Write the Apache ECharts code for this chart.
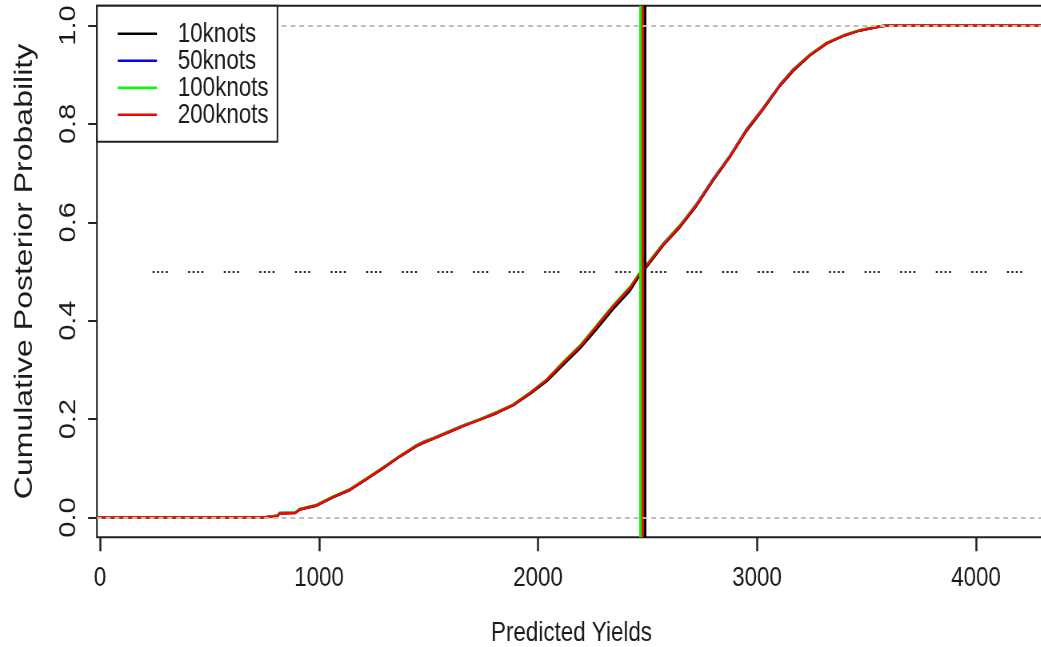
<!DOCTYPE html>
<html>
<head>
<meta charset="utf-8">
<script src="https://cdn.jsdelivr.net/npm/echarts@6/dist/echarts.min.js"></script>
<style>
  html, body { margin: 0; padding: 0; background: #fff; }
  #frame { width: 1041px; height: 647px; overflow: hidden; }
  /* laid out wider, then squeezed horizontally for the narrow device font look */
  #chart { width: 1320px; height: 647px; transform: scaleX(0.8); transform-origin: 0 0; }
</style>
</head>
<body>
<div id="frame"><div id="chart"></div></div>
<script>
// Predicted yields (x) at which the cumulative probabilities below are read
const yields = [744, 745, 812, 818, 890, 913, 989, 1064, 1142, 1218, 1292, 1370, 1446, 1483, 1521, 1598, 1658,
  1735, 1811, 1886, 1963, 2040, 2114, 2192, 2268, 2342, 2420, 2458, 2481, 2572, 2648, 2725, 2800,
  2877, 2953, 3029, 3105, 3166, 3242, 3318, 3394, 3470, 3547, 3592];

// Cumulative posterior probability for each knot setting
const cdf10 = [0, 0.002, 0.003, 0.008, 0.009, 0.016, 0.024, 0.041, 0.056, 0.078, 0.100, 0.124, 0.145, 0.153, 0.160, 0.174, 0.186,
  0.199, 0.212, 0.228, 0.251, 0.277, 0.310, 0.344, 0.383, 0.423, 0.461, 0.488, 0.501, 0.553, 0.590, 0.634, 0.685,
  0.733, 0.786, 0.830, 0.877, 0.908, 0.939, 0.963, 0.979, 0.990, 0.997, 1.0];
const cdf50 = [0, 0.002, 0.004, 0.009, 0.010, 0.017, 0.025, 0.042, 0.057, 0.079, 0.101, 0.125, 0.147, 0.155, 0.161, 0.176, 0.187,
  0.200, 0.214, 0.229, 0.253, 0.280, 0.315, 0.349, 0.390, 0.430, 0.468, 0.493, 0.505, 0.557, 0.594, 0.638, 0.689,
  0.736, 0.790, 0.833, 0.880, 0.911, 0.941, 0.964, 0.979, 0.990, 0.997, 1.0];
const cdf100 = [0, 0.003, 0.004, 0.009, 0.010, 0.018, 0.026, 0.043, 0.058, 0.080, 0.102, 0.126, 0.147, 0.155, 0.161, 0.176, 0.187,
  0.200, 0.214, 0.230, 0.254, 0.281, 0.316, 0.350, 0.391, 0.431, 0.469, 0.494, 0.506, 0.557, 0.594, 0.637, 0.688,
  0.735, 0.789, 0.832, 0.879, 0.911, 0.941, 0.965, 0.980, 0.991, 0.998, 1.0];
const cdf200 = [0, 0.002, 0.003, 0.008, 0.009, 0.017, 0.025, 0.042, 0.057, 0.079, 0.101, 0.125, 0.146, 0.154, 0.160, 0.175, 0.186,
  0.199, 0.213, 0.229, 0.253, 0.280, 0.314, 0.348, 0.389, 0.429, 0.467, 0.492, 0.504, 0.555, 0.592, 0.636, 0.687,
  0.734, 0.788, 0.832, 0.879, 0.910, 0.940, 0.964, 0.979, 0.990, 0.997, 1.0];

// Posterior medians (vertical reference lines)
const medians = [2490, 2470, 2468, 2479];

const seriesNames = ['10knots', '50knots', '100knots', '200knots'];
const seriesColors = ['#000000', '#0000ff', '#00ff00', '#ff0000'];

const xTicks = [0, 1000, 2000, 3000, 4000];
const xTickLabels = ['0', '1000', '2000', '3000', '4000'];
const yTicks = [0, 0.2, 0.4, 0.6, 0.8, 1.0];
const yTickLabels = ['0.0', '0.2', '0.4', '0.6', '0.8', '1.0'];

// dotted 0.5 guide runs from here to the right edge
const halfLineStart = 240;

const X_MIN = -14, X_MAX = 4320, Y_MIN = -0.04, Y_MAX = 1.04;
const PX_PER_UNIT = 0.27375;

const FONT = '"Liberation Sans", Arial, sans-serif';
const INK = '#1a1a1a';

function curve(cdf) {
  const pts = [[X_MIN, 0]];
  for (let i = 0; i < yields.length; i++) pts.push([yields[i], cdf[i]]);
  pts.push([X_MAX, 1]);
  return pts;
}

const cdfs = [cdf10, cdf50, cdf100, cdf200];

const series = cdfs.map((cdf, i) => ({
  name: seriesNames[i],
  type: 'line',
  data: curve(cdf),
  symbol: 'none',
  lineStyle: { color: seriesColors[i], width: 2.5 },
  itemStyle: { color: seriesColors[i] },
  silent: true,
  markLine: {
    silent: true,
    symbol: ['none', 'none'],
    label: { show: false },
    lineStyle: { type: 'solid', color: seriesColors[i], width: 3 },
    data: [{ xAxis: medians[i] }]
  }
}));

// reference lines at 0, 1 (grey dashed) and 0.5 (black dotted)
series.push({
  name: 'ref',
  type: 'line',
  data: [],
  silent: true,
  markLine: {
    silent: true,
    symbol: ['none', 'none'],
    label: { show: false },
    data: [
      { yAxis: 0, lineStyle: { color: '#bdbdbd', width: 2, type: [6, 5] } },
      { yAxis: 1, lineStyle: { color: '#bdbdbd', width: 2, type: [6, 5] } },
      [
        { coord: [halfLineStart, 0.5], lineStyle: { color: '#222', width: 2, type: [2.5, 3, 2.5, 3, 2.5, 3, 2.5, 25.5] } },
        { coord: [X_MAX, 0.5] }
      ]
    ]
  }
});

const chart = echarts.init(document.getElementById('chart'), null, { renderer: 'canvas' });
chart.setOption({
  animation: false,
  backgroundColor: '#fff',
  textStyle: { fontFamily: FONT },
  grid: {
    show: true,
    left: 121.2,
    top: 5.8,
    width: (X_MAX - X_MIN) * PX_PER_UNIT,
    height: 531.4,
    containLabel: false,
    outerBoundsMode: 'none',
    borderColor: '#222',
    borderWidth: 2,
    backgroundColor: 'transparent'
  },
  legend: {
    data: seriesNames,
    orient: 'vertical',
    left: 121.2,
    top: 5.8,
    z: 10,
    backgroundColor: '#fff',
    borderColor: '#222',
    borderWidth: 2,
    borderRadius: 0,
    padding: [14, 11, 13, 26],
    itemGap: -1,
    itemWidth: 49,
    itemHeight: 2.5,
    icon: 'rect',
    selectedMode: false,
    textStyle: { fontFamily: FONT, fontSize: 28, color: INK, lineHeight: 26, padding: [0, 0, 0, 21] }
  },
  xAxis: {
    type: 'value',
    min: X_MIN,
    max: X_MAX,
    name: 'Predicted Yields',
    nameLocation: 'middle',
    nameGap: 82,
    nameTextStyle: { fontFamily: FONT, fontSize: 28, color: INK },
    axisLine: { show: false, onZero: false },
    splitLine: { show: false },
    axisTick: { show: true, customValues: xTicks, length: 14, lineStyle: { color: '#222', width: 2.5 } },
    axisLabel: {
      customValues: xTicks,
      margin: 27,
      fontFamily: FONT,
      fontSize: 28,
      color: INK,
      formatter: v => xTickLabels[xTicks.indexOf(v)]
    }
  },
  yAxis: {
    type: 'value',
    min: Y_MIN,
    max: Y_MAX,
    name: 'Cumulative Posterior Probability',
    nameLocation: 'middle',
    nameGap: 74,
    nameTextStyle: { fontFamily: FONT, fontSize: 32, color: INK },
    axisLine: { show: false, onZero: false },
    splitLine: { show: false },
    axisTick: { show: true, customValues: yTicks, length: 11, lineStyle: { color: '#222', width: 2 } },
    axisLabel: {
      customValues: yTicks,
      rotate: 90,
      margin: 21,
      fontFamily: FONT,
      fontSize: 29,
      color: INK,
      formatter: v => yTickLabels[yTicks.findIndex(t => Math.abs(t - v) < 1e-9)]
    }
  },
  series: series
});
</script>
</body>
</html>
